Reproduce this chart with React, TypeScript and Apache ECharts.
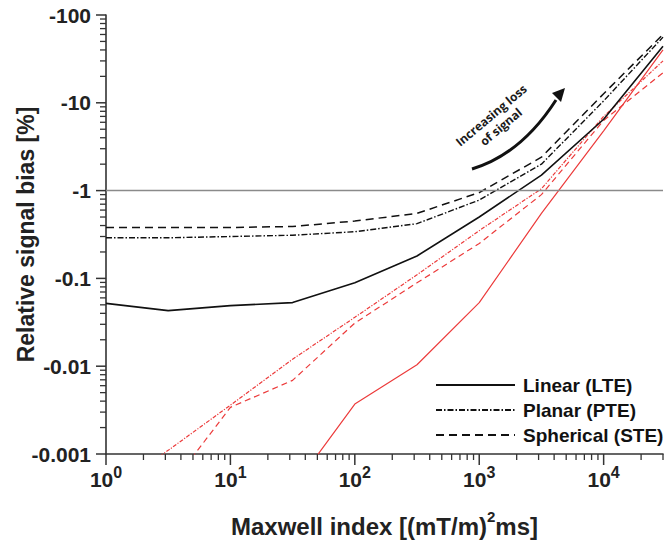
import React, { useEffect, useRef } from 'react';
import * as echarts from 'echarts';

// Maxwell index [(mT/m)^2 ms]
const maxwellIndex = [1, 3.16, 10, 31.6, 100, 316, 1000, 3162, 10000, 30000];
// magnitudes of the (negative) relative signal bias [%]
const lteBlack = [0.052, 0.043, 0.049, 0.053, 0.089, 0.18, 0.5, 1.5, 6.5, 44];
const pteBlack = [0.29, 0.29, 0.3, 0.31, 0.34, 0.42, 0.78, 2.0, 10.5, 56];
const steBlack = [0.38, 0.38, 0.38, 0.39, 0.45, 0.55, 0.95, 2.4, 12.7, 60];
const lteRed = [null, null, null, 0.0004, 0.0037, 0.0104, 0.053, 0.55, 4.8, 40];
const pteRed = [0.00035, 0.0011, 0.0036, 0.012, 0.036, 0.11, 0.35, 1.05, 7, 30];
const steRed = [0.0001, 0.0004, 0.0034, 0.0069, 0.031, 0.089, 0.25, 0.9, 6.3, 22];

const xMajorTicks = [1, 10, 100, 1000, 10000];
const yMajorTicks = [0.001, 0.01, 0.1, 1, 10, 100];
const legendNames = ['Linear (LTE)', 'Planar (PTE)', 'Spherical (STE)'];
const annotationLines = ['Increasing loss', 'of signal'];

const X_MIN = 1;
const X_MAX = 30000;
const Y_MIN = 0.001;
const Y_MAX = 100;

function minorTicks(majors: number[], max: number) {
  const out: number[] = [];
  majors.forEach((m) => {
    for (let k = 2; k <= 9; k++) {
      const v = +(m * k).toPrecision(6);
      if (v <= max * 1.0001) out.push(v);
    }
  });
  return out;
}

function pairs(ys: (number | null)[]) {
  const out: number[][] = [];
  ys.forEach((y, i) => {
    if (y != null) out.push([maxwellIndex[i], y]);
  });
  return out;
}

const BLACK = '#111111';
const RED = '#ec3b3b';
const AXIS = '#333333';
const TEXT = '#222222';
const FONT = 'Liberation Sans, Arial, sans-serif';

export default function App() {
  const ref = useRef<HTMLDivElement>(null);

  useEffect(() => {
    document.body.style.margin = '0';
    if (!ref.current) return;
    const chart = echarts.init(ref.current, undefined, { renderer: 'svg' });

    const xMinor = minorTicks(xMajorTicks, X_MAX);
    const yMinor = minorTicks(yMajorTicks.slice(0, -1), Y_MAX);

    const lineSeries = (name: string, ys: (number | null)[], color: string, width: number, type: any, extra: any = {}) => ({
      name,
      type: 'line',
      data: pairs(ys),
      showSymbol: false,
      symbol: 'none',
      lineStyle: { color, width, type },
      itemStyle: { color },
      z: color === RED ? 2 : 3,
      ...extra,
    });

    const annotations: any[] = [
      {
        type: 'bezierCurve',
        shape: { x1: 472, y1: 169, cpx1: 512, cpy1: 157, cpx2: 538, cpy2: 128, x2: 556, y2: 100 },
        style: { stroke: BLACK, lineWidth: 3, fill: 'none' },
        z: 10,
      },
      {
        type: 'polygon',
        shape: { points: [[565, 88], [552, 93], [561, 102]] },
        style: { fill: BLACK },
        z: 10,
      },
      {
        type: 'text',
        x: 496,
        y: 121,
        rotation: (40 * Math.PI) / 180,
        style: {
          text: annotationLines.join('\n'),
          align: 'center',
          verticalAlign: 'middle',
          fontSize: 12,
          fontWeight: 'bold',
          lineHeight: 15,
          fontFamily: 'Open Sans, sans-serif',
          fill: '#1a1a1a',
        },
        z: 10,
      },
    ];

    const option: any = {
      animation: false,
      grid: { left: 106, right: 2, top: 15, bottom: 87, outerBoundsMode: 'none' },
      legend: {
        data: legendNames,
        orient: 'vertical',
        left: 430,
        top: 370,
        itemWidth: 79,
        itemHeight: 14,
        itemGap: 5,
        selectedMode: false,
        itemStyle: { color: 'rgba(0,0,0,0)', borderColor: 'rgba(0,0,0,0)', borderWidth: 0 },
        textStyle: { fontSize: 19, fontWeight: 'bold', color: BLACK, fontFamily: FONT, lineHeight: 20, padding: [0, 0, 0, 3] },
      },
      xAxis: {
        type: 'log',
        min: X_MIN,
        max: X_MAX,
        position: 'bottom',
        name: 'Maxwell index [(mT/m){s|2}ms]',
        nameLocation: 'middle',
        nameMoveOverlap: false,
        nameGap: 55,
        nameTextStyle: {
          fontSize: 24,
          fontWeight: 'bold',
          color: TEXT,
          fontFamily: FONT,
          lineHeight: 34,
          rich: { s: { fontSize: 15, fontWeight: 'bold', color: TEXT, fontFamily: FONT, lineHeight: 16, verticalAlign: 'top' } },
        },
        axisLine: { show: true, lineStyle: { color: AXIS, width: 1.6 } },
        axisTick: { show: false },
        splitLine: { show: false },
        axisLabel: {
          customValues: xMajorTicks,
          margin: 10,
          formatter: (v: number) => `{b|10}{s|${Math.round(Math.log10(v))}}`,
          rich: {
            b: { fontSize: 21, fontWeight: 'bold', color: TEXT, fontFamily: FONT, lineHeight: 30 },
            s: { fontSize: 16, fontWeight: 'bold', color: TEXT, fontFamily: FONT, lineHeight: 17, verticalAlign: 'top' },
          },
        },
      },
      yAxis: {
        type: 'log',
        min: Y_MIN,
        max: Y_MAX,
        position: 'left',
        name: 'Relative signal bias [%]',
        nameLocation: 'middle',
        nameMoveOverlap: false,
        nameGap: 69,
        nameTextStyle: { fontSize: 23, fontWeight: 'bold', color: TEXT, fontFamily: FONT },
        axisLine: { show: true, lineStyle: { color: AXIS, width: 1.6 } },
        axisTick: { show: false },
        splitLine: { show: false },
        axisLabel: {
          customValues: yMajorTicks,
          margin: 15,
          fontSize: 21,
          fontWeight: 'bold',
          color: TEXT,
          fontFamily: FONT,
          formatter: (v: number) => '-' + v,
        },
      },
      series: [
        lineSeries('Linear (LTE)', lteBlack, BLACK, 1.6, 'solid', {
          markLine: {
            silent: true,
            symbol: 'none',
            label: { show: false },
            lineStyle: { color: '#8a8a8a', width: 1.3, type: 'solid' },
            data: [{ yAxis: 1 }],
          },
        }),
        lineSeries('Planar (PTE)', pteBlack, BLACK, 1.4, [6, 2, 1.5, 2]),
        lineSeries('Spherical (STE)', steBlack, BLACK, 1.5, [8, 5]),
        lineSeries('Linear (LTE) red', lteRed, RED, 1.2, 'solid'),
        lineSeries('Planar (PTE) red', pteRed, RED, 1.2, [4, 1.5, 1.2, 1.5]),
        lineSeries('Spherical (STE) red', steRed, RED, 1.2, [6, 4]),
      ],
      graphic: annotations,
    };

    chart.setOption(option);

    // axis ticks, positioned through the chart's own log scales
    const ticks: any[] = [];
    const toPx = (v: number[]) => chart.convertToPixel({ gridIndex: 0 } as any, v) as number[];
    const addX = (v: number, len: number, w: number) => {
      const p = toPx([v, Y_MIN]);
      if (!p || !isFinite(p[0])) return;
      ticks.push({ type: 'line', z: 20, silent: true, shape: { x1: p[0], y1: p[1], x2: p[0], y2: p[1] + len }, style: { stroke: AXIS, lineWidth: w } });
    };
    const addY = (v: number, len: number, w: number) => {
      const p = toPx([X_MIN, v]);
      if (!p || !isFinite(p[1])) return;
      ticks.push({ type: 'line', z: 20, silent: true, shape: { x1: p[0], y1: p[1], x2: p[0] - len, y2: p[1] }, style: { stroke: AXIS, lineWidth: w } });
    };
    xMajorTicks.forEach((v) => addX(v, 11, 1.5));
    xMinor.forEach((v) => addX(v, 6, 1.3));
    yMajorTicks.forEach((v) => addY(v, 10, 1.5));
    yMinor.forEach((v) => addY(v, 6, 1.3));

    chart.setOption({ graphic: [...annotations, ...ticks] });

    return () => chart.dispose();
  }, []);

  return <div ref={ref} style={{ width: 665, height: 541 }} />;
}
